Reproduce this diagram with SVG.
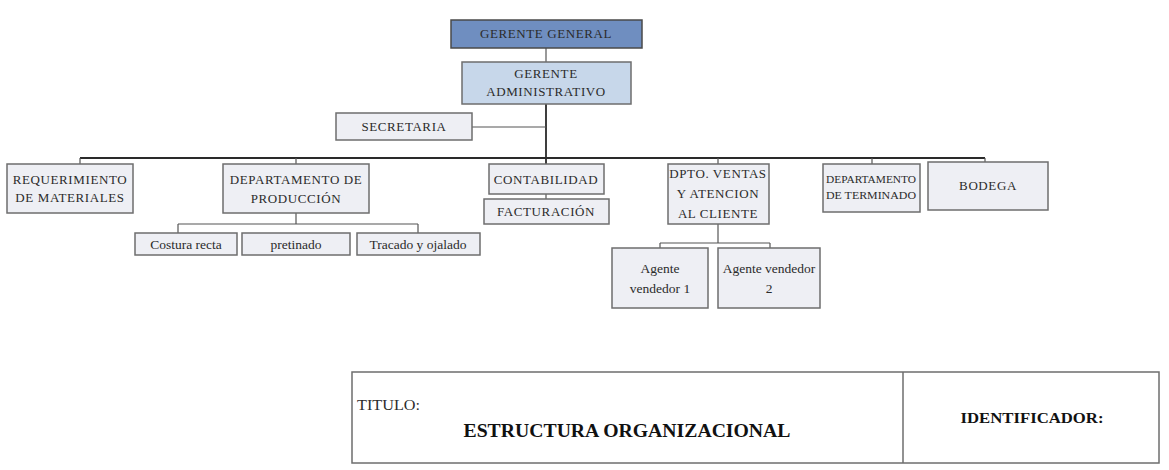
<svg xmlns="http://www.w3.org/2000/svg" width="1169" height="470" viewBox="0 0 1169 470">
<style>
.box{fill:#eeeff4;stroke:#6e6e6e;stroke-width:1.5}
.gg{fill:#6f8ec0;stroke:#4a4a4a;stroke-width:1.5}
.ga{fill:#c7d7ea;stroke:#6e6e6e;stroke-width:1.5}
.frame{fill:#ffffff;stroke:#6e6e6e;stroke-width:1.5}
text{font-family:"Liberation Serif","Times New Roman",serif;fill:#2b2b2b;text-anchor:middle}
.t{font-size:13px;letter-spacing:0.6px}
.s{font-size:13.5px}
.xs{font-size:11px}
.conn line{stroke:#2a2a2a;stroke-width:1.8}
.conn .thin{stroke:#555;stroke-width:1.2}
</style>
<rect width="1169" height="470" fill="#ffffff"/>
<g id="connectors" class="conn">
<line x1="546" y1="48" x2="546" y2="62" class="thin"/>
<line x1="546" y1="104" x2="546" y2="164"/>
<line x1="472" y1="127" x2="546" y2="127" class="thin"/>
<line x1="80" y1="158" x2="985" y2="158"/>
<line x1="80" y1="158" x2="80" y2="164" class="thin"/>
<line x1="296" y1="158" x2="296" y2="164" class="thin"/>
<line x1="718" y1="158" x2="718" y2="164" class="thin"/>
<line x1="872" y1="158" x2="872" y2="164" class="thin"/>
<line x1="985" y1="158" x2="985" y2="162" class="thin"/>
<line x1="546" y1="194" x2="546" y2="199" class="thin"/>
<line x1="296" y1="213" x2="296" y2="224" class="thin"/>
<line x1="178" y1="224" x2="418" y2="224" class="thin"/>
<line x1="178" y1="224" x2="178" y2="233" class="thin"/>
<line x1="418" y1="224" x2="418" y2="233" class="thin"/>
<line x1="718" y1="224" x2="718" y2="243" class="thin"/>
<line x1="660" y1="243" x2="770" y2="243" class="thin"/>
<line x1="660" y1="243" x2="660" y2="248" class="thin"/>
<line x1="770" y1="243" x2="770" y2="248" class="thin"/>
</g>
<g id="gerente-general"><rect class="gg" x="451" y="20" width="191" height="28"/><text class="t" x="546" y="38">GERENTE GENERAL</text></g>
<g id="gerente-administrativo"><rect class="ga" x="462" y="62" width="169" height="42"/><text class="t" x="546" y="78">GERENTE</text><text class="t" x="546" y="96">ADMINISTRATIVO</text></g>
<g id="secretaria"><rect class="box" x="336" y="113" width="136" height="27"/><text class="t" x="404" y="131">SECRETARIA</text></g>
<g id="requerimiento"><rect class="box" x="7" y="164" width="126" height="49"/><text class="t" x="70" y="184">REQUERIMIENTO</text><text class="t" x="70" y="202">DE MATERIALES</text></g>
<g id="produccion"><rect class="box" x="223" y="164" width="146" height="49"/><text class="t" x="296" y="184">DEPARTAMENTO DE</text><text class="t" x="296" y="203">PRODUCCIÓN</text></g>
<g id="costura"><rect class="box" x="135" y="233" width="102" height="22"/><text class="s" x="186" y="249">Costura recta</text></g>
<g id="pretinado"><rect class="box" x="242" y="233" width="108" height="22"/><text class="s" x="296" y="249">pretinado</text></g>
<g id="tracado"><rect class="box" x="357" y="233" width="123" height="22"/><text class="s" x="418" y="249">Tracado y  ojalado</text></g>
<g id="contabilidad"><rect class="box" x="489" y="164" width="115" height="30"/><text class="t" x="546" y="184">CONTABILIDAD</text></g>
<g id="facturacion"><rect class="box" x="484" y="199" width="125" height="25"/><text class="t" x="546" y="216">FACTURACIÓN</text></g>
<g id="ventas"><rect class="box" x="668" y="164" width="101" height="60"/><text class="t" x="718" y="178">DPTO. VENTAS</text><text class="t" x="718" y="198">Y ATENCION</text><text class="t" x="718" y="218">AL CLIENTE</text></g>
<g id="agente1"><rect class="box" x="612" y="248" width="96" height="60"/><text class="s" x="660" y="273">Agente</text><text class="s" x="660" y="293">vendedor 1</text></g>
<g id="agente2"><rect class="box" x="718" y="248" width="102" height="60"/><text class="s" x="769" y="273">Agente vendedor</text><text class="s" x="769" y="293">2</text></g>
<g id="terminado"><rect class="box" x="823" y="164" width="97" height="48"/><text class="xs" x="871" y="183" textLength="90" lengthAdjust="spacingAndGlyphs">DEPARTAMENTO</text><text class="xs" x="871" y="199" textLength="90" lengthAdjust="spacingAndGlyphs">DE TERMINADO</text></g>
<g id="bodega"><rect class="box" x="928" y="162" width="120" height="48"/><text class="t" x="988" y="190">BODEGA</text></g>
<g id="title-block">
<rect class="frame" x="352" y="372" width="807" height="91"/>
<line x1="903" y1="372" x2="903" y2="463" stroke="#6e6e6e" stroke-width="1.5"/>
<text x="357" y="410" style="font-size:15px;text-anchor:start" textLength="63" lengthAdjust="spacingAndGlyphs">TITULO:</text>
<text x="627" y="437" style="font-size:18px;font-weight:bold;fill:#111" textLength="327" lengthAdjust="spacingAndGlyphs">ESTRUCTURA ORGANIZACIONAL</text>
<text x="1032" y="423" style="font-size:15px;font-weight:bold;fill:#111" textLength="143" lengthAdjust="spacingAndGlyphs">IDENTIFICADOR:</text>
</g>
</svg>
